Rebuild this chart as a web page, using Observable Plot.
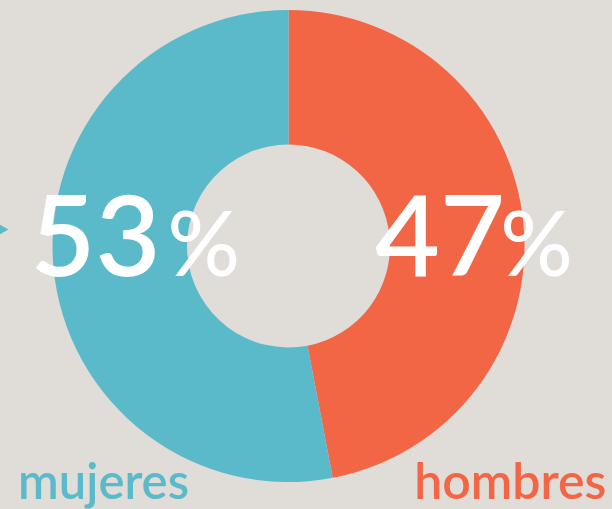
<!DOCTYPE html>
<html><head><meta charset="utf-8">
<script src="https://cdn.jsdelivr.net/npm/d3@7"></script>
<script src="https://cdn.jsdelivr.net/npm/@observablehq/plot@0.6"></script>
<style>
html,body{margin:0;padding:0;background:#e0dcd8;overflow:hidden;}
</style></head><body><div id="chart"></div>
<script>
// Data
const categories = ["hombres", "mujeres"];
const values = [47, 53];
const colors = ["#f26645", "#5bbac9"];
const valueLabels = ["47", "53"];

const slices = categories.map((c, i) => ({category: c, value: values[i], color: colors[i], label: valueLabels[i]}));
const arcs = d3.pie().sort(null).value(d => d.value)(slices);

// layout (data coordinates: donut centered at 0,0 with radius 1)
const numEnd = {hombres: 0.915, mujeres: -0.545};
const pctStart = {hombres: 0.895, mujeres: -0.515};

function donut(index, scales, vals, dimensions, context) {
  const cx = scales.x(0), cy = scales.y(0);
  const R = Math.abs(scales.x(1) - scales.x(0));
  const arc = d3.arc().innerRadius(R * 0.43).outerRadius(R);
  const g = d3.create("svg:g").attr("transform", `translate(${cx},${cy})`);
  g.selectAll("path").data(arcs).join("path").attr("d", arc).attr("fill", d => d.data.color);
  return g.node();
}

const plot = Plot.plot({
  width: 612, height: 509,
  margin: 0,
  x: {domain: [-1, 1], range: [52.5, 524.5], axis: null},
  y: {domain: [-1, 1], range: [482, 10], axis: null},
  style: {background: "#e0dcd8", fontFamily: "Lato"},
  marks: [
    donut,
    Plot.dot([slices[1]], {x: -1.245, y: 0.072, symbol: "triangle", rotate: 90, r: 8.5, fill: d => d.color, stroke: null}),
    Plot.text(slices, {x: d => numEnd[d.category], y: -0.123, text: "label", textAnchor: "end", lineAnchor: "bottom", fill: "white", fontSize: 112, fontWeight: 600}),
    Plot.text(slices, {x: d => pctStart[d.category], y: -0.123, text: d => "%", textAnchor: "start", lineAnchor: "bottom", fill: "white", fontSize: 90, fontWeight: 500}),
    Plot.text([slices[1]], {x: -1.148, y: -1.068, text: "category", textAnchor: "start", lineAnchor: "bottom", fill: d => d.color, fontSize: 49, fontWeight: 600}),
    Plot.text([slices[0]], {x: 1.345, y: -1.068, text: "category", textAnchor: "end", lineAnchor: "bottom", fill: d => d.color, fontSize: 50, fontWeight: 600})
  ]
});
document.getElementById("chart").append(plot);
</script>
</body></html>
